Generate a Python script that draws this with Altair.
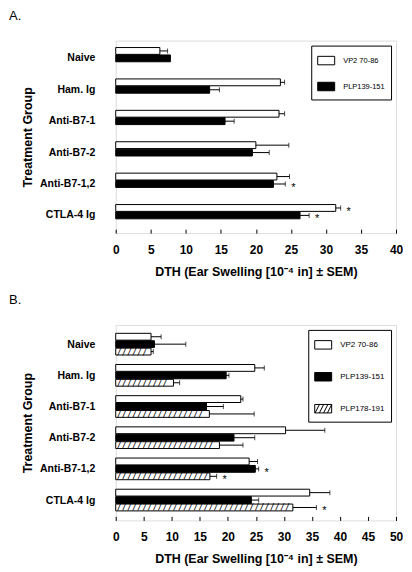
import altair as alt
import pandas as pd

treatments = ["Naive", "Ham. Ig", "Anti-B7-1", "Anti-B7-2", "Anti-B7-1,2", "CTLA-4 Ig"]

# Panel A
series_a = ["VP2 70-86", "PLP139-151"]
a_vp2 = [6.3, 23.5, 23.3, 20.0, 23.0, 31.4]
a_vp2_sem = [1.1, 0.6, 0.8, 4.7, 1.8, 0.7]
a_vp2_sig = [False, False, False, False, False, True]
a_plp139 = [7.8, 13.4, 15.6, 19.5, 22.5, 26.3]
a_plp139_sem = [0.0, 1.4, 1.3, 2.4, 1.7, 1.3]
a_plp139_sig = [False, False, False, False, True, True]

# Panel B
series_b = ["VP2 70-86", "PLP139-151", "PLP178-191"]
b_vp2 = [6.3, 24.8, 22.3, 30.3, 23.8, 34.6]
b_vp2_sem = [1.8, 1.7, 0.4, 7.0, 1.5, 3.6]
b_vp2_sig = [False, False, False, False, False, False]
b_plp139 = [6.9, 19.7, 16.2, 21.1, 24.9, 24.2]
b_plp139_sem = [5.6, 0.5, 3.0, 3.7, 0.6, 1.3]
b_plp139_sig = [False, False, False, False, True, False]
b_plp178 = [6.3, 10.3, 16.7, 18.5, 16.8, 31.6]
b_plp178_sem = [0.4, 1.1, 8.0, 4.2, 1.2, 4.2]
b_plp178_sig = [False, False, False, False, True, True]

x_title = "DTH (Ear Swelling [10\u207b\u2074 in] \u00b1 SEM)"
FONT = "Liberation Sans"
PLOT_W = 281

RECT = "M-1,-0.5H1V0.5H-1Z"
HATCH = RECT + "M-0.95,0.5L-0.45,-0.5M-0.45,0.5L0.05,-0.5M0.05,0.5L0.55,-0.5M0.5,0.5L1,-0.5"


def frame(series, values, sems, sigs):
    rows = []
    for s, vals, ss, gg in zip(series, values, sems, sigs):
        for t, v, e, g in zip(treatments, vals, ss, gg):
            rows.append({"Treatment": t, "Series": s, "Value": v, "SEM": e, "Sig": g})
    return pd.DataFrame(rows)


def panel(df, series, fills, shapes, xmax, height, label, pin, pout, opad,
          rowpad, legfont):
    xs = alt.Scale(domain=[0, xmax], nice=False)
    ys = alt.Scale(paddingInner=pin, paddingOuter=pout)
    os = alt.Scale(paddingInner=opad)
    xaxis = alt.Axis(
        title=x_title, values=list(range(0, xmax + 1, 5)), tickSize=4,
        offset=-4, domain=False, grid=False, labelPadding=11,
        titlePadding=10, labelFont=FONT, labelFontSize=12,
        labelFontWeight="bold", labelColor="black", titleFont=FONT,
        titleFontSize=12.5, titleFontWeight="bold", titleColor="black",
        tickColor="black", labelFlush=False)
    yaxis = alt.Axis(
        title="Treatment Group", ticks=False, domain=False,
        labelPadding=21, labelFont=FONT, labelFontSize=10.5,
        labelFontWeight="bold", labelColor="black", titleFont=FONT,
        titleFontSize=12.5, titleFontWeight="bold", titleColor="black",
        titlePadding=5)
    leg = alt.Legend(
        title=None, orient="top-right", offset=5, strokeColor="black",
        fillColor="white", padding=6, cornerRadius=0,
        labelFont=FONT, labelFontSize=legfont, labelColor="black",
        symbolSize=289, symbolStrokeColor="black", symbolStrokeWidth=1,
        symbolOpacity=1, rowPadding=rowpad, labelOffset=8,
    )
    fill = alt.Fill("Series:N", sort=series,
                    scale=alt.Scale(domain=series, range=fills), legend=leg)
    base = alt.Chart(df).encode(
        y=alt.Y("Treatment:N", sort=treatments, scale=ys, axis=yaxis),
        yOffset=alt.YOffset("Series:N", sort=series, scale=os),
    )
    bars = base.mark_bar(stroke="black", strokeWidth=1).encode(
        x=alt.X("Value:Q", scale=xs, axis=xaxis),
        fill=fill,
    )
    points = base.mark_point(filled=True, opacity=0, strokeWidth=1).encode(
        x=alt.X("Value:Q", scale=xs, axis=xaxis),
        fill=fill,
        stroke=alt.Stroke("Series:N", sort=series,
                          scale=alt.Scale(domain=series,
                                          range=["black"] * len(series)),
                          legend=leg),
        shape=alt.Shape("Series:N", sort=series,
                        scale=alt.Scale(domain=series, range=shapes), legend=leg),
    )
    layers = [bars, points]
    if "PLP178-191" in series:
        hatch = base.transform_filter(
            "datum.Series == 'PLP178-191'"
        ).transform_calculate(
            h=f"pad('', floor((datum.Value * {PLOT_W / xmax} - 2) / 5.12), '/')"
        ).mark_text(align="left", baseline="middle", font="DejaVu Sans Mono",
                    fontSize=8.5, dx=1, fill="black").encode(
            x=alt.datum(0, scale=xs, axis=xaxis), text="h:N")
        layers.append(hatch)
    err = base.transform_filter("datum.SEM > 0").transform_calculate(
        hi="datum.Value + datum.SEM")
    layers.append(err.mark_rule(color="black", strokeWidth=1).encode(
        x=alt.X("Value:Q", scale=xs, axis=xaxis), x2="hi:Q"))
    layers.append(err.mark_tick(color="black", thickness=1, size=5,
                                orient="vertical").encode(
        x=alt.X("hi:Q", scale=xs, axis=xaxis)))
    star = base.transform_filter("datum.Sig").transform_calculate(
        hi="datum.Value + datum.SEM")
    layers.append(star.mark_text(text="*", font=FONT, fontSize=11, dx=8,
                                 dy=7, baseline="alphabetic", align="center",
                                 fill="black").encode(
        x=alt.X("hi:Q", scale=xs, axis=xaxis)))
    return alt.layer(*layers).properties(
        width=PLOT_W, height=height,
        title=alt.TitleParams(label, anchor="start", frame="group", dx=-107,
                              fontSize=13, font=FONT, fontWeight="normal",
                              color="black", offset=18),
    )


df_a = frame(series_a, [a_vp2, a_plp139], [a_vp2_sem, a_plp139_sem],
             [a_vp2_sig, a_plp139_sig])
df_b = frame(series_b, [b_vp2, b_plp139, b_plp178],
             [b_vp2_sem, b_plp139_sem, b_plp178_sem],
             [b_vp2_sig, b_plp139_sig, b_plp178_sig])

pa = panel(df_a, series_a, ["white", "black"], [RECT, RECT], 40, 193, "A.",
           0.31, 0.22, 0.08, 10, 7.5)
pb = panel(df_b, series_b, ["white", "black", "white"], [RECT, RECT, HATCH],
           50, 196, "B.", 0.27, 0.27, 0.0, 16, 8)

chart = alt.vconcat(pa, pb, spacing=15).resolve_scale(
    fill="independent", shape="independent", stroke="independent"
).properties(padding=0).configure_view(
    stroke="black", strokeWidth=1).configure(background="white")

chart.save("out.html", embed_options={"renderer": "svg", "actions": False})
